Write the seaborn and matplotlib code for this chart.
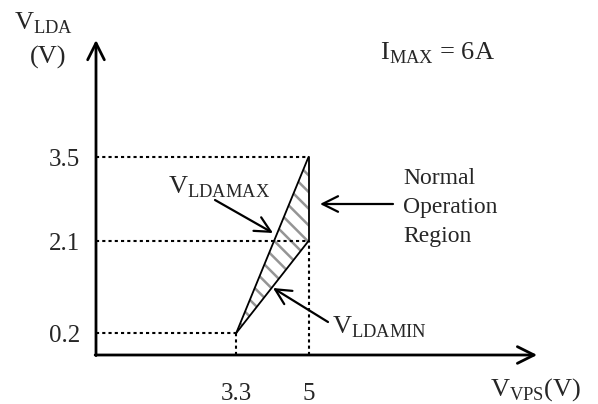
import numpy as np
import matplotlib
matplotlib.use('Agg')
import matplotlib.pyplot as plt
import seaborn as sns

# ---- data ----
x_ticks = [3.3, 5]
x_tick_labels = ['3.3', '5']
y_ticks = [0.2, 2.1, 3.5]
y_tick_labels = ['0.2', '2.1', '3.5']
vps_max = [3.3, 5]
vlda_max = [0.2, 3.5]
vps_min = [3.3, 5]
vlda_min = [0.2, 2.1]

sns.set_theme(style='white')
plt.rcParams['font.family'] = ['Liberation Serif', 'DejaVu Serif']
plt.rcParams['mathtext.fontset'] = 'custom'
plt.rcParams['mathtext.rm'] = 'Liberation Serif'
plt.rcParams['hatch.linewidth'] = 1.8

W, H = 598, 404
fig = plt.figure(figsize=(W / 100, H / 100), dpi=100)
fig.patch.set_facecolor('white')
ax = fig.add_axes([0, 0, 1, 1])
ax.set_axis_off()

# hatched normal operation region
poly_x = vps_max + [vps_min[-1]]
poly_y = vlda_max + [vlda_min[-1]]
ax.fill(poly_x, poly_y, facecolor='none', edgecolor='#959595', hatch=r'\\', lw=0)

# boundary lines
sns.lineplot(x=vps_max, y=vlda_max, color='black', lw=1.3, ax=ax)
sns.lineplot(x=vps_min, y=vlda_min, color='black', lw=1.3, ax=ax)
ax.plot([vps_max[-1], vps_min[-1]], [vlda_max[-1], vlda_min[-1]], color='black', lw=1.3)

# dotted guides
dot = dict(color='black', lw=1.5, ls=(0, (1.5, 1.5)))
guide_x = [vps_min[0], vps_min[-1], vps_max[-1]]
for xv, yv in zip(guide_x, y_ticks):
    ax.plot([0, xv], [yv, yv], **dot)
ax.plot([vps_min[0], vps_min[0]], [0, vlda_min[0]], **dot)
ax.plot([vps_min[-1], vps_min[-1]], [0, vlda_min[-1]], **dot)

# schematic (piecewise) y scale
_vk = [-10, 0, 0.2, 2.1, 3.5, 20]
_pk = [-600, 0, 22, 114, 198, 1188]
fwd = lambda v: np.interp(v, _vk, _pk)
inv = lambda p: np.interp(p, _pk, _vk)
ax.set_yscale('function', functions=(fwd, inv))
ax.set_ylim(-49 / 60, 3.5 + 157 / 60)
ax.set_xlim(-96 / 42.5, (W - 96) / 42.5)

# axes arrows
arr = dict(arrowstyle='->', lw=2, color='black', mutation_scale=30, shrinkA=0, shrinkB=0)
ax.annotate('', xy=(10.38, 0), xytext=(-0.02, 0), arrowprops=arr)
ax.annotate('', xy=(0, 5.45), xytext=(0, -0.01), arrowprops=arr)

# tick labels
for v, s in zip(y_ticks, y_tick_labels):
    ax.annotate(s, xy=(0, v), xytext=(-16, -9.5), textcoords='offset pixels',
                ha='right', va='baseline', fontsize=18)
for v, s in zip(x_ticks, x_tick_labels):
    ax.annotate(s, xy=(v, 0), xytext=(0, -45), textcoords='offset pixels',
                ha='center', va='baseline', fontsize=18)


def T(x, y, s, **kw):
    fig.text(x / W, 1 - y / H, s, ha='left', va='baseline', **kw)


T(14, 30, r'V$_{\mathrm{LDA}}$', fontsize=19)
T(30, 64, '(V)', fontsize=19)
T(380, 60, r'I$_{\mathrm{MAX}}$ = 6A', fontsize=19)
T(168, 193, r'V$_{\mathrm{LDAMAX}}$', fontsize=19)
T(332, 333, r'V$_{\mathrm{LDAMIN}}$', fontsize=19)
T(490, 396, r'V$_{\mathrm{VPS}}$(V)', fontsize=19)
T(403, 184, 'Normal', fontsize=17)
T(403, 213, 'Operation', fontsize=17)
T(403, 242, 'Region', fontsize=17)


def P(x, y):
    return (x, H - y)


aarr = dict(arrowstyle='->', lw=1.6, color='black', mutation_scale=28, shrinkA=0, shrinkB=0)
ax.annotate('', xy=P(273, 233), xytext=P(215, 200), xycoords='figure pixels',
            textcoords='figure pixels', arrowprops=aarr)
ax.annotate('', xy=P(320, 204), xytext=P(393, 204), xycoords='figure pixels',
            textcoords='figure pixels', arrowprops=aarr)
ax.annotate('', xy=P(273, 288), xytext=P(328, 322), xycoords='figure pixels',
            textcoords='figure pixels', arrowprops=aarr)

fig.savefig('out.png', dpi=100, facecolor='white')
